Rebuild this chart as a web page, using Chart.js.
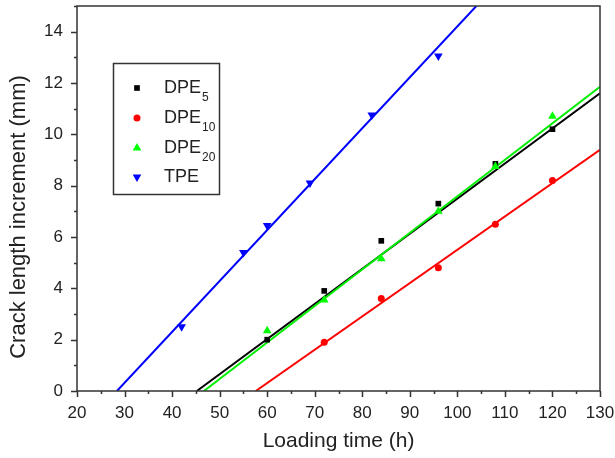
<!DOCTYPE html>
<html>
<head>
<meta charset="utf-8">
<script src="https://cdn.jsdelivr.net/npm/chart.js@4/dist/chart.umd.min.js"></script>
<style>
  html, body { margin: 0; padding: 0; background: #fff; }
  #wrap { width: 615px; height: 458px; position: relative; }
</style>
</head>
<body>
<div id="wrap"><canvas id="chart"></canvas></div>
<script>
// Measured points (loading time h, crack length increment mm)
const dpe5X  = [60, 72, 84, 96, 108, 120];
const dpe5Y  = [2.0, 3.9, 5.85, 7.3, 8.85, 10.2];
const dpe10X = [72, 84, 96, 108, 120];
const dpe10Y = [1.9, 3.6, 4.8, 6.5, 8.2];
const dpe20X = [60, 72, 84, 96, 108, 120];
const dpe20Y = [2.35, 3.55, 5.15, 7.0, 8.75, 10.7];
const tpeX   = [42, 55, 60, 69, 82, 96];
const tpeY   = [2.5, 5.4, 6.45, 8.1, 10.75, 13.05];

// Fitted lines, end points
const fit5X  = [45.2, 130];  const fit5Y  = [0, 11.6];
const fit10X = [57.6, 130];  const fit10Y = [0, 9.4];
const fit20X = [46.7, 130];  const fit20Y = [0, 11.85];
const fitTX  = [28.4, 104];  const fitTY  = [0, 15];

const xTicks = [20, 30, 40, 50, 60, 70, 80, 90, 100, 110, 120, 130];
const yTicks = [0, 2, 4, 6, 8, 10, 12, 14];

const FONT = '"Liberation Sans", Arial, sans-serif';
const AXIS = '#333';
const Y_TITLE = 'Crack length increment (mm)';

const pts = (xs, ys) => xs.map((x, i) => ({ x, y: ys[i] }));

function lineSet(xs, ys, color, order) {
  return { type: 'line', data: pts(xs, ys), borderColor: color, borderWidth: 2,
           pointRadius: 0, fill: false, order };
}
function markSet(label, xs, ys, color, style, radius, rotation, order) {
  return { type: 'scatter', label, data: pts(xs, ys), backgroundColor: color, borderColor: color,
           borderWidth: 0, pointStyle: style, pointRadius: radius, pointRotation: rotation || 0, order };
}

const series = [
  { main: 'DPE', sub: '5',  color: '#000000', style: 'rect',     r: 4,   rot: 0 },
  { main: 'DPE', sub: '10', color: '#ff0000', style: 'circle',   r: 3.5, rot: 0 },
  { main: 'DPE', sub: '20', color: '#00ff00', style: 'triangle', r: 5,   rot: 0 },
  { main: 'TPE', sub: '',   color: '#0000ff', style: 'triangle', r: 5,   rot: 180 },
];

// keep the plot box where the reference has it (no extra room for edge labels)
function pinScale(s, key, size) {
  s[key] = size;
  s.paddingLeft = s.paddingRight = s.paddingTop = s.paddingBottom = 0;
}

// ── Frame + minor/major ticks ─────────────────────────────────────────────
const frameTicks = {
  id: 'frameTicks',
  afterDraw(chart) {
    const { ctx, chartArea: a, scales: { x, y } } = chart;
    ctx.save();
    ctx.strokeStyle = AXIS;
    ctx.lineWidth = 1.5;
    ctx.strokeRect(a.left, a.top, a.right - a.left, a.bottom - a.top);
    ctx.beginPath();
    for (let v = 20; v <= 130; v += 5) {
      const px = Math.round(x.getPixelForValue(v)) + 0.5;
      ctx.moveTo(px, a.bottom);
      ctx.lineTo(px, a.bottom + (v % 10 === 0 ? 6 : 3));
    }
    for (let v = 0; v <= 15; v += 1) {
      const py = Math.round(y.getPixelForValue(v)) + 0.5;
      ctx.moveTo(a.left, py);
      ctx.lineTo(a.left - (v % 2 === 0 ? 6 : 3), py);
    }
    ctx.stroke();

    // y title sits a bit below the middle of the axis in the original
    ctx.translate(19, 217);
    ctx.rotate(-Math.PI / 2);
    ctx.fillStyle = '#222';
    ctx.font = '22px ' + FONT;
    ctx.textAlign = 'center';
    ctx.textBaseline = 'middle';
    ctx.fillText(Y_TITLE, 0, 0);
    ctx.restore();
  }
};

// ── Legend box with subscripts ────────────────────────────────────────────
const subLegend = {
  id: 'subLegend',
  afterDraw(chart) {
    const { ctx } = chart;
    ctx.save();
    ctx.strokeStyle = AXIS;
    ctx.lineWidth = 1.5;
    ctx.strokeRect(113.5, 63.5, 106, 131);
    const rows = [88, 118, 148, 177];
    series.forEach((s, i) => {
      const yy = rows[i];
      ctx.fillStyle = s.color;
      ctx.strokeStyle = s.color;
      Chart.helpers.drawPoint(ctx, { pointStyle: s.style, radius: s.r, rotation: s.rot, borderWidth: 0 }, 137, yy);
      ctx.fillStyle = '#222';
      ctx.textBaseline = 'middle';
      ctx.font = '18px ' + FONT;
      ctx.fillText(s.main, 164, yy);
      if (s.sub) {
        const w = ctx.measureText(s.main).width;
        ctx.font = '12px ' + FONT;
        ctx.fillText(s.sub, 164 + w + 1, yy + 10);
      }
    });
    ctx.restore();
  }
};

new Chart(document.getElementById('chart'), {
  data: {
    datasets: [
      lineSet(fit5X, fit5Y, '#000000', 8),
      lineSet(fit20X, fit20Y, '#00ee00', 7),
      lineSet(fit10X, fit10Y, '#ff0000', 6),
      lineSet(fitTX, fitTY, '#0000ff', 5),
      markSet('DPE5', dpe5X, dpe5Y, series[0].color, series[0].style, series[0].r, 0, 4),
      markSet('DPE10', dpe10X, dpe10Y, series[1].color, series[1].style, series[1].r, 0, 3),
      markSet('DPE20', dpe20X, dpe20Y, series[2].color, series[2].style, series[2].r, 0, 2),
      markSet('TPE', tpeX, tpeY, series[3].color, series[3].style, series[3].r, 180, 1),
    ]
  },
  options: {
    responsive: true,
    maintainAspectRatio: false,
    animation: false,
    layout: { padding: { top: 6, right: 15, left: 0, bottom: 0 } },
    plugins: { legend: { display: false }, tooltip: { enabled: false } },
    scales: {
      x: {
        type: 'linear', min: 20, max: 130,
        afterBuildTicks: s => { s.ticks = xTicks.map(v => ({ value: v })); },
        afterFit: s => pinScale(s, 'height', 67),
        grid: { display: false, drawTicks: false },
        border: { display: false },
        ticks: { color: '#222', padding: 12, maxRotation: 0, font: { family: FONT, size: 17 } },
        title: { display: true, text: 'Loading time (h)', color: '#222', padding: { top: 0, bottom: 4 },
                 font: { family: FONT, size: 21 } }
      },
      y: {
        type: 'linear', min: 0, max: 15,
        afterBuildTicks: s => { s.ticks = yTicks.map(v => ({ value: v })); },
        afterFit: s => pinScale(s, 'width', 77),
        grid: { display: false, drawTicks: false },
        border: { display: false },
        ticks: { color: '#222', padding: 14, font: { family: FONT, size: 17 } },
        title: { display: false }
      }
    }
  },
  plugins: [frameTicks, subLegend]
});
</script>
</body>
</html>
